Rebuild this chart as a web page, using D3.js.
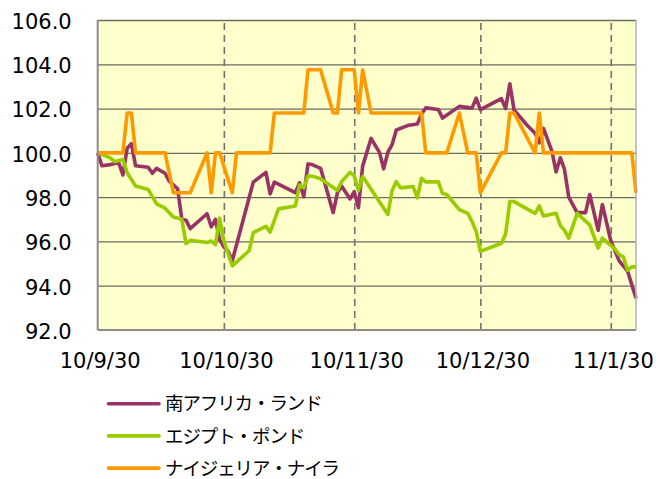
<!DOCTYPE html>
<meta charset="utf-8">
<style>
body { margin: 0; background: #fff; }
.axis text { font-family: "DejaVu Sans", Verdana, sans-serif; font-size: 21px; fill: #000; }
.legend text { font-family: "Noto Sans CJK JP", sans-serif; font-size: 18.5px; letter-spacing: -1.1px; fill: #000; }
</style>
<div id="chart"></div>
<script src="https://d3js.org/d3.v7.min.js"></script>
<script>

// ---- data (index, 10/9/30 = 100) ----
var zar = [
  ["2010-09-30",100.0],["2010-10-01",99.42],["2010-10-03",99.47],["2010-10-05",99.55],["2010-10-06",99.0],
  ["2010-10-07",100.2],["2010-10-08",100.42],["2010-10-09",99.42],["2010-10-12",99.35],["2010-10-13",99.08],
  ["2010-10-14",99.3],["2010-10-16",99.08],["2010-10-17",98.72],["2010-10-19",98.38],["2010-10-20",97.0],
  ["2010-10-21",96.96],["2010-10-22",96.58],["2010-10-26",97.25],["2010-10-27",96.66],["2010-10-28",97.0],
  ["2010-10-29",96.08],["2010-10-30",95.75],["2010-10-31",95.56],["2010-11-01",95.13],["2010-11-06",98.68],
  ["2010-11-09",99.12],["2010-11-10",98.15],["2010-11-11",98.68],["2010-11-16",98.2],["2010-11-17",98.65],
  ["2010-11-18",98.02],["2010-11-19",99.5],["2010-11-20",99.47],["2010-11-22",99.3],["2010-11-25",97.3],
  ["2010-11-26",98.2],["2010-11-27",98.5],["2010-11-29",97.92],["2010-11-30",98.25],["2010-12-01",97.52],
  ["2010-12-02",99.4],["2010-12-04",100.65],["2010-12-06",100.02],["2010-12-07",99.28],["2010-12-08",100.03],
  ["2010-12-09",100.37],["2010-12-10",101.03],["2010-12-13",101.25],["2010-12-15",101.3],["2010-12-16",101.75],
  ["2010-12-17",102.03],["2010-12-20",101.96],["2010-12-21",101.57],["2010-12-25",102.1],["2010-12-28",102.02],
  ["2010-12-29",102.47],["2010-12-30",101.95],["2011-01-04",102.45],["2011-01-05",102.0],["2011-01-06",103.12],
  ["2011-01-07",101.94],["2011-01-10",101.27],["2011-01-12",100.89],["2011-01-13",100.45],["2011-01-14",101.1],
  ["2011-01-16",100.08],["2011-01-17",99.14],["2011-01-18",99.78],["2011-01-19",99.25],["2011-01-20",98.0],
  ["2011-01-22",97.3],["2011-01-24",97.3],["2011-01-25",98.12],["2011-01-27",96.5],["2011-01-28",97.67],
  ["2011-01-30",96.03],["2011-02-01",95.12],["2011-02-03",94.66],["2011-02-05",93.43]
];

var egp = [
  ["2010-09-30",100.0],["2010-10-03",99.77],["2010-10-04",99.6],["2010-10-06",99.7],["2010-10-07",99.1],
  ["2010-10-09",98.5],["2010-10-11",98.4],["2010-10-12",98.35],["2010-10-14",97.7],["2010-10-16",97.5],
  ["2010-10-18",97.1],["2010-10-20",97.0],["2010-10-21",95.9],["2010-10-22",96.05],["2010-10-26",95.95],
  ["2010-10-27",96.02],["2010-10-28",95.85],["2010-10-29",97.05],["2010-10-30",96.02],["2010-11-01",94.9],
  ["2010-11-05",95.58],["2010-11-06",96.4],["2010-11-09",96.68],["2010-11-10",96.42],["2010-11-12",97.47],
  ["2010-11-16",97.6],["2010-11-17",98.55],["2010-11-18",98.42],["2010-11-19",98.95],["2010-11-20",98.95],
  ["2010-11-22",98.83],["2010-11-26",98.3],["2010-11-27",98.7],["2010-11-29",99.12],["2010-11-30",98.97],
  ["2010-12-01",98.3],["2010-12-02",98.93],["2010-12-08",97.22],["2010-12-09",98.3],["2010-12-10",98.7],
  ["2010-12-11",98.42],["2010-12-14",98.48],["2010-12-15",97.97],["2010-12-16",98.85],["2010-12-17",98.69],
  ["2010-12-20",98.69],["2010-12-21",98.16],["2010-12-22",98.12],["2010-12-25",97.44],["2010-12-27",97.27],
  ["2010-12-28",96.9],["2010-12-29",96.45],["2010-12-30",95.55],["2011-01-04",95.92],["2011-01-05",96.35],
  ["2011-01-06",97.8],["2011-01-07",97.8],["2011-01-12",97.27],["2011-01-13",97.6],["2011-01-14",97.15],
  ["2011-01-17",97.27],["2011-01-18",96.72],["2011-01-19",96.5],["2011-01-20",96.15],["2011-01-22",97.27],
  ["2011-01-25",96.75],["2011-01-27",95.7],["2011-01-28",96.15],["2011-01-31",95.65],["2011-02-01",95.4],
  ["2011-02-02",95.3],["2011-02-03",94.7],["2011-02-04",94.85],["2011-02-05",94.85]
];

var ngn = [
  ["2010-09-30",100],["2010-10-06",100],["2010-10-07",101.8],["2010-10-08",101.8],["2010-10-09",100],
  ["2010-10-16",100],["2010-10-18",98.2],["2010-10-22",98.2],["2010-10-26",100],["2010-10-27",98.2],
  ["2010-10-28",100],["2010-10-29",100],["2010-11-01",98.2],["2010-11-02",100],["2010-11-10",100],
  ["2010-11-11",101.8],["2010-11-18",101.8],["2010-11-19",103.75],["2010-11-22",103.75],["2010-11-25",101.8],
  ["2010-11-26",101.8],["2010-11-27",103.75],["2010-11-30",103.75],["2010-12-01",101.8],["2010-12-02",103.75],
  ["2010-12-04",101.8],["2010-12-16",101.8],["2010-12-17",100],["2010-12-22",100],["2010-12-25",101.8],
  ["2010-12-27",100],["2010-12-29",100],["2010-12-30",98.2],["2011-01-04",100],["2011-01-05",100],
  ["2011-01-06",101.8],["2011-01-07",101.8],["2011-01-12",100],["2011-01-13",101.8],["2011-01-14",100],
  ["2011-02-04",100],["2011-02-05",98.2]
];

var seriesNames = ["南アフリカ・ランド", "エジプト・ポンド", "ナイジェリア・ナイラ"];
var seriesColors = ["#993366", "#99cc00", "#ff9900"];

var yTicks = [92, 94, 96, 98, 100, 102, 104, 106];
var xTickDates = ["2010-09-30", "2010-10-30", "2010-11-30", "2010-12-30", "2011-01-30"];
var xTickLabels = ["10/9/30", "10/10/30", "10/11/30", "10/12/30", "11/1/30"];

// ---- layout ----
var W = 660, H = 479;
var plot = {left: 97.7, top: 20, right: 636, bottom: 330};
var pw = plot.right - plot.left, ph = plot.bottom - plot.top;

var parse = d3.timeParse("%Y-%m-%d");

var svg = d3.select("#chart").append("svg")
  .attr("width", W).attr("height", H);

var g = svg.append("g")
  .attr("transform", "translate(" + plot.left + "," + plot.top + ")");

var x = d3.scaleTime()
  .domain([parse("2010-09-30"), parse("2011-02-05")])
  .range([0, pw]);

var y = d3.scaleLinear()
  .domain([92, 106])
  .range([ph, 0]);

// plot background
g.append("rect")
  .attr("width", pw).attr("height", ph)
  .attr("fill", "#ffffcc");

// horizontal grid
g.append("g")
  .call(d3.axisLeft(y).tickValues(yTicks.slice(1)).tickSize(-pw).tickFormat(""))
  .call(function(s) { s.select(".domain").remove(); })
  .selectAll("line")
    .attr("stroke", "#6b6b60")
    .attr("stroke-width", 1.3);

// dashed month lines
g.append("g")
  .attr("transform", "translate(0," + ph + ")")
  .call(d3.axisBottom(x).tickValues(xTickDates.slice(1).map(parse)).tickSize(-ph).tickFormat(""))
  .call(function(s) { s.select(".domain").remove(); })
  .selectAll("line")
    .attr("stroke", "#707070")
    .attr("stroke-width", 1.6)
    .attr("stroke-dasharray", "7,5");

// series
var line = d3.line()
  .x(function(d) { return x(parse(d[0])); })
  .y(function(d) { return y(d[1]); });

[zar, egp, ngn].forEach(function(data, i) {
  g.append("path")
    .datum(data)
    .attr("fill", "none")
    .attr("stroke", seriesColors[i])
    .attr("stroke-width", 3.6)
    .attr("stroke-linejoin", "round")
    .attr("d", line);
});

// plot border: left / bottom axis lines and light right edge
g.append("line").attr("x1", 0).attr("x2", 0).attr("y1", 0).attr("y2", ph)
  .attr("stroke", "#8c8c8c").attr("stroke-width", 2);
g.append("line").attr("x1", 0).attr("x2", pw).attr("y1", ph).attr("y2", ph)
  .attr("stroke", "#8c8c8c").attr("stroke-width", 2);
g.append("line").attr("x1", pw).attr("x2", pw).attr("y1", 0).attr("y2", ph)
  .attr("stroke", "#b0b0b0").attr("stroke-width", 1.5);

// y axis labels
g.append("g")
  .attr("class", "axis")
  .call(d3.axisLeft(y).tickValues(yTicks).tickFormat(d3.format(".1f")).tickSize(0).tickPadding(26))
  .call(function(s) { s.select(".domain").remove(); })
  .selectAll("text").attr("dy", "0.4em");

// x axis labels
var labelOf = {};
xTickDates.forEach(function(d, i) { labelOf[+parse(d)] = xTickLabels[i]; });
g.append("g")
  .attr("class", "axis")
  .attr("transform", "translate(0," + ph + ")")
  .call(d3.axisBottom(x).tickValues(xTickDates.map(parse))
    .tickFormat(function(d) { return labelOf[+d]; })
    .tickSize(0).tickPadding(23))
  .call(function(s) { s.select(".domain").remove(); })
  .selectAll("text").attr("dx", 2);

// legend
var legend = svg.append("g").attr("class", "legend");
seriesNames.forEach(function(name, i) {
  var ly = 403.7 + i * 32.2;
  legend.append("line")
    .attr("x1", 108.5).attr("x2", 159)
    .attr("y1", ly).attr("y2", ly)
    .attr("stroke", seriesColors[i])
    .attr("stroke-width", 3.6)
    .attr("stroke-linecap", "round");
  legend.append("text")
    .attr("x", 165).attr("y", ly)
    .attr("dy", "0.36em")
    .text(name);
});

</script>
